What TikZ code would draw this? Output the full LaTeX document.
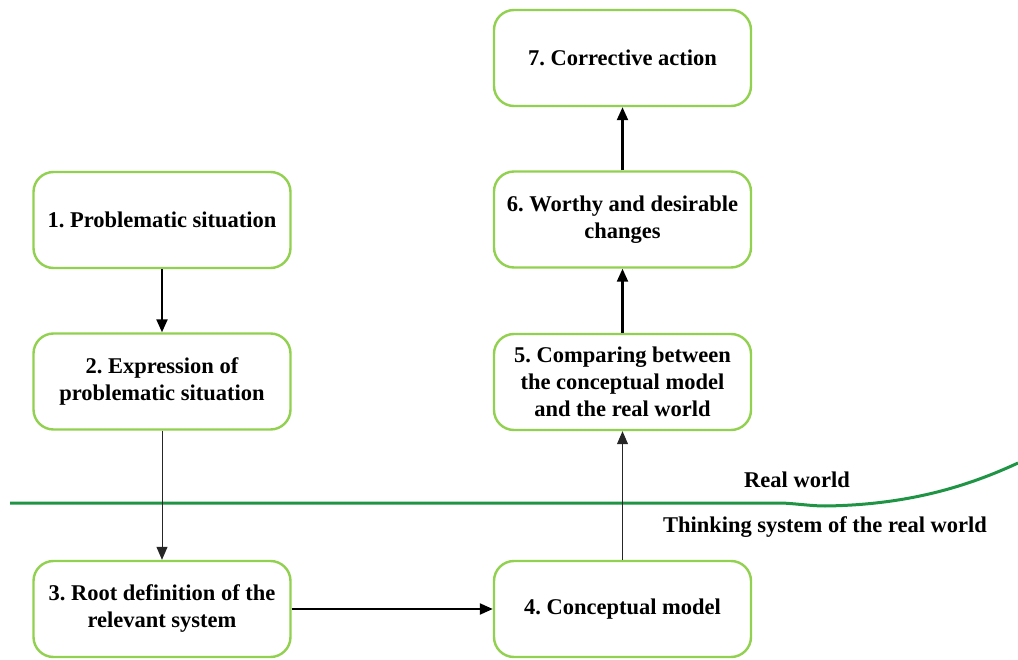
\documentclass[tikz,border=0pt]{standalone}
\usepackage{fontspec}
\setmainfont{Liberation Serif}
\usetikzlibrary{arrows.meta}
\definecolor{boxgreen}{HTML}{92D050}
\definecolor{linegreen}{HTML}{1E9444}
\tikzset{
  stage/.style={draw=boxgreen, line width=2.4pt, rounded corners=20pt, fill=white,
    minimum width=257pt, minimum height=96pt, align=center, inner sep=4pt,
    font=\fontsize{22.5pt}{27pt}\selectfont\bfseries\frenchspacing},
  flow/.style={-{Triangle[length=13pt,width=11pt]}, line width=2.2pt, black},
  thinflow/.style={-{Triangle[length=13pt,width=11pt]}, line width=1pt, black!85},
  zone/.style={font=\fontsize{22.5pt}{27pt}\selectfont\bfseries, inner sep=0pt}
}
\begin{document}
\begin{tikzpicture}[x=1pt,y=-1pt]
  \useasboundingbox (0,0) rectangle (1018,660);

  % boundary between the real world and systems thinking
  \draw[linegreen, line width=3pt]
    (10,503) -- (782,503)
    .. controls (800,504) and (812,506) .. (825,506)
    .. controls (900,505) and (960,490) .. (1018,463);
  \node[zone] (rw) at (797,480) {Real world};
  \node[zone] (ts) at (825,527) {Thinking system of the real world};

  % the seven stages
  \node[stage] (s1) at (162,220) {1. Problematic situation};
  \node[stage] (s2) at (162,381.5) {2. Expression of\\problematic situation};
  \node[stage] (s3) at (162,609) {3. Root definition of the\\relevant system};
  \node[stage] (s4) at (622.5,609) {4. Conceptual model};
  \node[stage] (s5) at (622.5,382) {5. Comparing between\\the conceptual model\\and the real world};
  \node[stage] (s6) at (622.5,219.5) {6. Worthy and desirable\\changes};
  \node[stage] (s7) at (622.5,58) {7. Corrective action};

  % connectors
  \draw[flow] (s1) -- (s2);
  \draw[thinflow] (s2) -- (s3);
  \draw[flow] (s3) -- (s4);
  \draw[thinflow] (s4) -- (s5);
  \draw[flow] (s5) -- (s6);
  \draw[flow] (s6) -- (s7);
\end{tikzpicture}
\end{document}
